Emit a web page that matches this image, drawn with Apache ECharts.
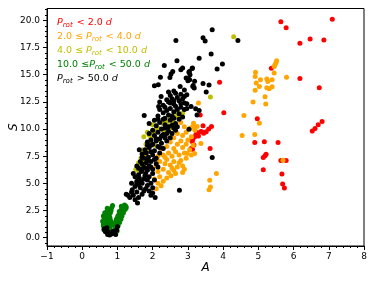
<!DOCTYPE html>
<html><head><meta charset="utf-8">
<script src="https://cdn.jsdelivr.net/npm/echarts@6/dist/echarts.min.js"></script>
<style>html,body{margin:0;padding:0;background:#fff}#c{width:374px;height:282px}</style>
</head><body><div id="c"></div><script>
const xTicks = [-1, 0, 1, 2, 3, 4, 5, 6, 7, 8];
const yTicks = [0, 2.5, 5, 7.5, 10, 12.5, 15, 17.5, 20];
const yMinor = [-0.5, 0.5, 1, 1.5, 2, 3, 3.5, 4, 4.5, 5.5, 6, 6.5, 7, 8, 8.5, 9, 9.5, 10.5, 11, 11.5, 12, 13, 13.5, 14, 14.5, 15.5, 16, 16.5, 17, 18, 18.5, 19, 19.5, 20.5, 21];
const seriesNames = ['Prot < 2.0 d', '2.0 <= Prot < 4.0 d', '4.0 <= Prot < 10.0 d', '10.0 <= Prot < 50.0 d', 'Prot > 50.0 d'];
const legendTexts = [
  '{i|P}{s|rot} < 2.0 {i|d}',
  '2.0 \u2264 {i|P}{s|rot} < 4.0 {i|d}',
  '4.0 \u2264 {i|P}{s|rot} < 10.0 {i|d}',
  '10.0 \u2264{i|P}{s|rot} < 50.0 {i|d}',
  '{i|P}{s|rot} > 50.0 {i|d}'
];
const colors = ['#ff0000', '#ffa500', '#bfbf00', '#008000', '#000000'];

const redPts = [
  [3.35,11.3],[3.90,14.3],[4.02,11.5],[4.97,10.95],[3.67,10.23],[3.59,10.0],[3.52,9.75],[3.45,9.62],
  [3.40,9.72],[3.43,10.3],[3.28,9.62],[3.23,9.5],[3.21,9.31],[3.30,9.37],[3.14,9.07],[3.12,8.85],
  [3.17,8.54],[3.09,8.2],[3.13,8.15],[3.63,8.2],[4.90,8.76],[5.17,8.82],[5.56,8.75],
  [5.22,7.69],[5.19,7.53],[5.14,7.37],[5.64,7.1],[5.79,7.1],[5.14,6.24],[5.67,5.87],[5.69,4.95],[5.74,4.58],
  [5.37,15.6],[6.18,14.65],[6.73,13.8],[6.81,10.7],[6.70,10.4],[6.61,10.05],[6.53,9.83],
  [5.64,19.88],[5.79,19.33],[7.10,20.1],[6.18,17.9],[6.47,18.3],[6.86,18.2],[3.37,9.77],[3.25,9.7]
];
const orangePts = [
  [2.24,4.77],[2.1,4.5],[2.15,5.0],[2.3,5.2],[2.52,5.69],[2.4,5.5],[2.2,5.6],[2.05,5.4],[2.85,6.0],[2.85,6.6],
  [2.6,6.2],[2.45,6.0],[2.3,6.3],[2.15,6.1],[2.7,6.5],[2.5,6.7],[2.35,6.8],[2.1,6.6],[2.2,7.0],[2.4,7.2],
  [2.6,7.0],[2.8,7.1],[2.95,7.3],[2.75,7.6],[2.55,7.5],[2.3,7.6],[2.15,7.5],[2.45,7.8],[2.65,7.9],[2.9,7.8],
  [3.1,7.6],[2.98,7.74],[3.19,7.74],[3.05,8.1],[2.85,8.3],[2.6,8.2],[2.4,8.4],[2.25,8.2],[2.7,8.6],[2.95,8.6],
  [3.15,8.5],[3.37,8.66],[2.5,8.8],[2.8,8.9],[3.0,9.0],[2.6,9.2],[2.85,9.4],[3.1,9.3],[2.95,9.7],[2.7,9.6],
  [3.2,9.9],[3.07,10.08],[3.14,10.23],[3.26,10.23],[3.16,10.54],[2.9,10.2],[2.8,10.6],[3.30,12.39],
  [3.81,5.9],[3.62,5.29],[3.64,4.67],[3.60,4.42],[2.55,6.4],[2.75,6.9],[2.35,7.4],[2.9,6.3],[2.65,5.9],
  [5.52,16.29],[5.50,16.1],[5.47,15.9],[5.45,15.75],[5.45,15.15],[5.80,14.78],[5.06,14.53],[5.24,14.6],
  [5.27,14.38],[5.39,14.53],[5.03,13.92],[5.24,13.8],[5.31,13.7],[5.39,13.89],[5.19,12.97],[5.21,12.3],
  [5.03,10.54],[4.92,15.24],[4.91,14.84],[4.94,14.23],[4.91,13.58],[4.85,12.5],[4.59,11.25],[4.54,9.4],
  [4.90,9.49],[5.70,7.13]
];
const olivePts = [
  [4.30,18.5],[3.64,12.94],[1.52,6.3],[1.67,6.77],[1.71,7.69],[1.81,8.6],[1.90,9.47],[2.0,10.39],[2.28,10.54],
  [2.66,11.15],[2.85,11.47],[1.71,8.08],[1.67,7.32],[2.38,9.31],[2.57,10.08],[1.6,6.9],[1.75,7.1],[1.85,8.0],
  [1.95,8.9],[2.1,9.8],[2.15,10.1],[2.4,10.7],[2.5,11.0],[2.75,11.2],[2.2,9.0],[2.05,8.5],[1.8,7.5],[2.3,9.9],
  [2.45,10.3],[1.95,9.2],[2.6,10.6],[1.62,6.5],[2.0,9.5],[2.7,11.4],[1.58,6.2],[1.75,9.3],[1.85,9.7],[2.05,9.9]
];
const greenPts = [
  [0.62,0.7],[0.65,0.9],[0.6,1.1],[0.63,1.3],[0.58,1.5],[0.62,1.7],[0.66,1.5],[0.7,1.2],[0.68,1.0],[0.72,0.8],
  [0.75,1.1],[0.73,1.4],[0.69,1.7],[0.65,1.9],[0.6,2.0],[0.67,2.1],[0.72,1.9],[0.76,1.6],[0.78,1.3],[0.8,1.0],
  [0.74,2.2],[0.7,2.4],[0.77,2.0],[0.8,2.3],[0.76,2.6],[0.82,2.5],[0.84,2.8],[0.86,2.95],[0.79,1.8],[0.82,1.5],
  [0.64,2.3],[0.71,2.7],[0.85,1.2],[0.6,1.25],[0.68,0.75],[0.77,0.7],
  [0.95,0.8],[0.98,1.0],[0.93,1.1],[1.0,1.3],[0.96,1.5],[1.03,1.6],[1.0,1.8],[1.07,1.9],[1.04,2.1],[1.1,2.2],
  [1.08,2.4],[1.14,2.5],[1.12,2.7],[1.18,2.8],[1.2,3.0],[1.24,2.9],[1.22,2.6],[1.17,2.3],[1.13,2.0],[1.1,1.7],
  [1.06,1.4],[1.02,1.1],[0.99,0.6],[1.15,2.6],[1.05,2.4],[1.25,2.75],[1.11,2.9],[0.92,1.3],[0.97,1.7],[1.01,2.0]
];
const blackPts = [
  [0.72,0.3],[0.78,0.25],[0.85,0.35],[0.92,0.45],[0.98,0.7],[0.66,0.55],[0.62,0.8],[0.75,0.5],[0.88,0.6],[1.0,1.0],[0.95,0.3],[0.7,0.9],
  [1.57,3.2],[1.5,3.5],[1.35,3.7],[1.25,4.0],[1.3,3.9],[1.45,3.9],[1.6,3.7],[1.55,4.2],[1.42,4.4],[1.7,4.0],[1.8,4.5],[2.07,3.7],[2.0,4.1],[1.65,4.6],[1.5,4.7],[1.9,4.3],
  [1.4,5.0],[1.55,5.2],[1.62,5.5],[1.7,5.0],[1.85,4.8],[1.95,5.0],[1.75,5.4],[1.5,5.6],[1.6,5.8],[1.8,5.9],[1.9,5.6],[2.05,5.3],[1.45,5.9],[1.68,6.1],[2.0,5.9],[1.85,6.2],
  [1.6,6.4],[1.75,6.5],[1.9,6.6],[2.0,6.3],[1.82,6.9],[1.7,6.8],[2.1,6.8],[1.95,7.0],[1.65,7.0],[2.15,6.5],
  [1.75,7.3],[1.88,7.4],[2.0,7.6],[1.7,7.7],[1.95,7.9],[2.1,7.3],[2.2,7.8],[1.82,7.8],[2.05,8.0],[1.78,8.1],
  [1.9,8.3],[2.0,8.6],[2.15,8.4],[1.85,8.8],[2.1,8.9],[2.25,8.7],[2.3,8.2],[1.95,9.0],[2.4,8.9],[2.2,9.1],
  [2.05,9.4],[2.15,9.7],[2.3,9.5],[2.45,9.8],[2.0,9.9],[2.25,10.0],[2.35,9.2],[2.55,9.6],[1.9,9.6],[2.6,10.1],
  [2.1,10.3],[2.2,10.6],[2.35,10.4],[2.5,10.8],[2.65,10.5],[2.3,10.9],[2.05,10.8],[2.75,10.9],[2.45,10.2],[2.6,11.0],
  [2.15,11.2],[2.3,11.5],[2.45,11.3],[2.6,11.6],[2.75,11.4],[2.9,11.8],[2.5,11.9],[2.2,11.8],[2.8,12.0],[2.97,11.9],
  [3.09,12.07],[3.22,11.86],[3.32,11.7],[3.26,11.3],
  [2.3,12.2],[2.45,12.5],[2.6,12.3],[2.75,12.6],[2.9,12.4],[2.97,12.32],[2.55,12.8],[2.4,12.69],[2.7,12.9],[2.85,12.8],
  [2.5,13.1],[2.65,13.3],[2.8,13.2],[2.97,13.15],[2.6,13.5],[2.9,13.6],[2.78,13.92],[3.15,14.0],[3.18,13.77],[3.14,13.92],
  [2.05,13.98],[2.16,14.07],[3.52,13.4],[2.45,13.4],
  [3.69,19.14],[3.43,18.4],[3.49,18.1],[4.42,18.16],[2.66,18.16],[3.66,16.9],[3.32,16.53],[3.98,16.0],[3.83,15.52],
  [3.12,15.58],[3.03,15.24],[2.69,16.29],[2.33,15.85],[2.85,15.61],[2.80,15.45],[3.13,15.61],[2.57,15.3],[2.52,15.06],
  [2.49,14.75],[2.22,14.78],[3.04,15.3],[2.95,14.69],[3.02,14.6],[3.06,15.0],[3.05,14.53],[3.0,14.44],[3.19,14.41],
  [3.43,14.19],[3.60,14.05],[3.03,9.99],[3.69,7.37],[2.76,4.37],
  [1.76,11.25],[1.62,8.1],[1.9,10.5],[2.17,12.07],[2.24,13.0],
  [2.35,11.0],[2.55,11.2],[2.7,11.8],[2.4,11.7],[2.85,11.1],[2.65,12.1],[2.35,12.0],[2.5,12.4],[2.8,12.35],[2.2,12.5],
  [2.6,12.6],[2.9,13.0],[2.35,10.1],[2.55,10.35],[2.7,10.2],[2.15,10.9],[2.4,9.6],[2.5,9.2],[2.65,9.9],[2.25,9.35],
  [2.1,9.1],[1.95,8.5],[2.2,8.3],[1.85,8.5],[1.7,7.4],[2.05,7.2],[1.85,7.1],[1.8,6.4],[1.55,6.6],[1.95,6.5],
  [1.7,6.3],[1.55,5.0],[1.75,4.3],[1.85,5.3],[1.65,5.2],[1.4,4.2],[2.0,4.6],[1.95,3.9],[1.6,4.9],[1.78,5.7]
];

const groups = [redPts, orangePts, olivePts, greenPts, blackPts];
const chart = echarts.init(document.getElementById('c'));
const FONT = 'DejaVu Sans';
const minusFmt = v => (v < 0 ? '\u2212' + (-v) : String(v));

chart.setOption({
  animation: false,
  backgroundColor: '#fff',
  textStyle: { fontFamily: FONT },
  grid: { left: 47, right: 10, top: 8.5, bottom: 36, containLabel: false, show: true, borderColor: '#000', borderWidth: 1, backgroundColor: 'transparent' },
  xAxis: {
    type: 'value', min: -1, max: 8, interval: 1,
    axisLine: { show: true, onZero: false, lineStyle: { color: '#000', width: 1 } },
    axisTick: { show: true, length: 4, lineStyle: { color: '#000' } },
    minorTick: { show: true, splitNumber: 5, length: 2, lineStyle: { color: '#000' } },
    splitLine: { show: false },
    axisLabel: { fontSize: 9, color: '#000', margin: 6, fontFamily: FONT, formatter: minusFmt },
    name: 'A', nameLocation: 'middle', nameGap: 16, nameMoveOverlap: false,
    nameTextStyle: { fontSize: 12, fontStyle: 'italic', color: '#000', fontFamily: FONT }
  },
  yAxis: [{
    type: 'value', min: -0.77, max: 21.1,
    axisLine: { show: true, onZero: false, lineStyle: { color: '#000', width: 1 } },
    axisTick: { show: true, length: 4, customValues: yTicks, lineStyle: { color: '#000' } },
    splitLine: { show: false },
    axisLabel: { show: true, fontSize: 9, color: '#000', margin: 7, fontFamily: FONT, customValues: yTicks, formatter: v => v.toFixed(1) },
    name: 'S', nameLocation: 'middle', nameGap: 27, nameRotate: 90, nameMoveOverlap: false,
    nameTextStyle: { fontSize: 12, fontStyle: 'italic', color: '#000', fontFamily: FONT }
  }, {
    type: 'value', min: -0.77, max: 21.1, position: 'left',
    axisLine: { show: false, onZero: false },
    axisTick: { show: true, length: 2, customValues: yMinor, lineStyle: { color: '#000' } },
    axisLabel: { show: false },
    splitLine: { show: false }
  }],
  graphic: legendTexts.map((t, i) => ({
    type: 'text', left: 57, top: 18 + i * 14, z: 100,
    style: {
      text: t, fill: colors[i], fontSize: 9.5, fontFamily: FONT,
      rich: {
        i: { fontStyle: 'italic', fontSize: 9.5, fontFamily: FONT, fill: colors[i] },
        s: { fontStyle: 'italic', fontSize: 7, fontFamily: FONT, fill: colors[i], padding: [5, 1, 0, 0] }
      }
    }
  })),
  series: groups.map((g, i) => ({
    name: seriesNames[i], type: 'scatter', data: g, symbol: 'circle', symbolSize: 5,
    yAxisIndex: 0, itemStyle: { color: colors[i], opacity: 1 }, z: 2 + i
  }))
});
</script></body></html>
